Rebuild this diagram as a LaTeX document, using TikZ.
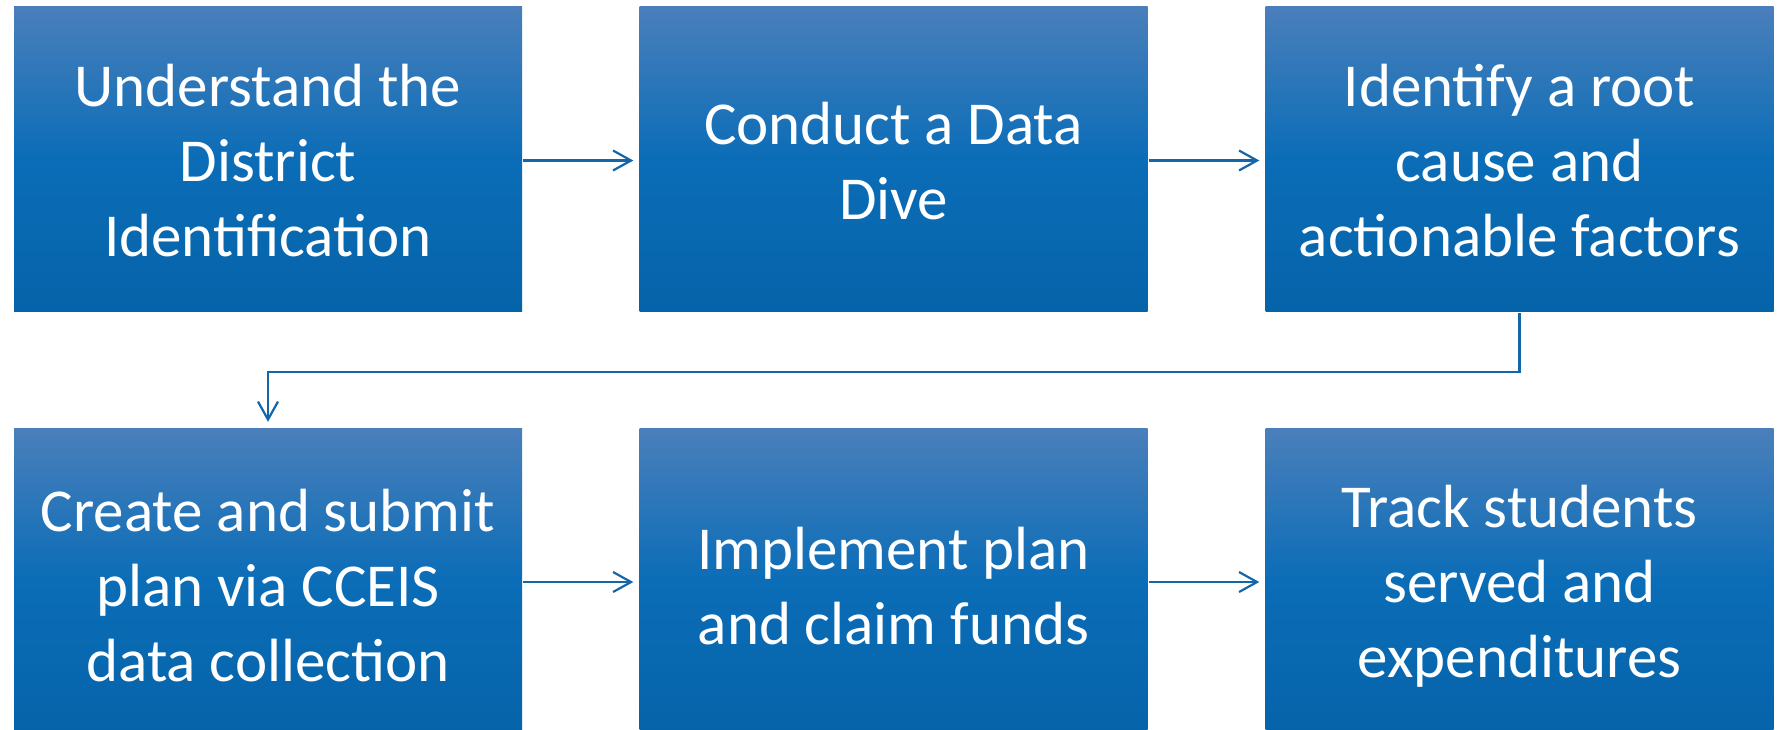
\documentclass[tikz,border=0pt]{standalone}
\usepackage{fontspec}
\setmainfont{Carlito}
\usetikzlibrary{arrows.meta}
\definecolor{boxtop}{HTML}{4A7FBB}
\definecolor{boxmid}{HTML}{0B6DB7}
\definecolor{boxbot}{HTML}{0563A9}
\definecolor{arrowblue}{HTML}{1366AA}
\tikzset{
  stepbox/.style={rectangle, minimum width=508pt, minimum height=305pt, inner sep=0pt,
    top color=boxtop, bottom color=boxbot, middle color=boxmid},
  steptext/.style={text=white, align=center, inner sep=0pt,
    font=\fontsize{61}{75}\selectfont, yshift=#1},
  arr/.style={draw=arrowblue, line width=2.2pt,
    -{Straight Barb[length=18pt,width=20pt,line width=2.2pt]}},
}
\begin{document}
\begin{tikzpicture}[x=1pt,y=1pt]
\useasboundingbox (0,0) rectangle (1782,-729);
\clip (0,0) rectangle (1782,-729);
\node[stepbox, label={[steptext=-2.5pt]center:Understand the\\District\\Identification}] (A) at (268,-158.5) {};
\node[stepbox, label={[steptext=-2.5pt]center:Conduct a Data\\Dive}] (B) at (893.5,-158.5) {};
\node[stepbox, label={[steptext=-2.5pt]center:Identify a root\\cause and\\actionable factors}] (C) at (1519.5,-158.5) {};
\node[stepbox, label={[steptext=-5.5pt]center:Create and submit\\plan via CCEIS\\data collection}] (D) at (268,-580.5) {};
\node[stepbox, label={[steptext=-5.5pt]center:Implement plan\\and claim funds}] (E) at (893.5,-580.5) {};
\node[stepbox, label={[steptext=-5.5pt]center:Track students\\served and\\expenditures}] (F) at (1519.5,-580.5) {};
\coordinate (elb) at (0,-372);
\draw[arr, shorten <=1pt, shorten >=6pt] ([yshift=-2pt]A.east) -- ([yshift=-2pt]B.west);
\draw[arr, shorten <=1pt, shorten >=6pt] ([yshift=-2pt]B.east) -- ([yshift=-2pt]C.west);
\draw[arr, shorten <=1pt, shorten >=6pt] ([yshift=-1.5pt]D.east) -- ([yshift=-1.5pt]E.west);
\draw[arr, shorten <=1pt, shorten >=6pt] ([yshift=-1.5pt]E.east) -- ([yshift=-1.5pt]F.west);
\draw[arr, shorten <=2pt, shorten >=6pt] (C.south) -- (C.south |- elb) -| (D.north);
\end{tikzpicture}
\end{document}
